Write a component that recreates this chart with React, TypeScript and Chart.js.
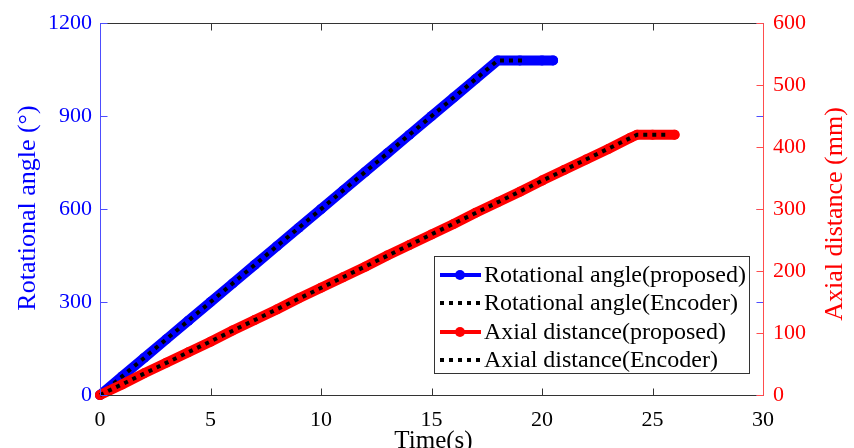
import React, { useEffect, useRef } from "react";
import { Chart, registerables } from "chart.js";
Chart.register(...registerables);

const FONT = "'Liberation Serif', 'Times New Roman', serif";

// Rotational angle (proposed) – time (s) / angle (deg)
const rotTime = [0, 1, 2, 3, 4, 5, 6, 7, 8, 9, 10, 11, 12, 13, 14, 15, 16, 17, 18, 19, 20, 20.5];
const rotProposed = [0, 60, 120, 180, 240, 300, 360, 420, 480, 540, 600, 660, 720, 780, 840, 900, 960, 1020, 1080, 1080, 1080, 1080];
// Rotational angle (Encoder)
const rotEncTime = [0, 18, 19.3];
const rotEncoder = [0, 1080, 1080];
// Axial distance (proposed) – time (s) / distance (mm)
const axTime = [0, 1, 2, 3, 4, 5, 6, 7, 8, 9, 10, 11, 12, 13, 14, 15, 16, 17, 18, 19, 20, 21, 22, 23, 24, 24.3, 25, 26];
const axProposed = [0, 17, 35, 52, 69, 86, 104, 121, 138, 156, 173, 190, 207, 225, 242, 259, 276, 294, 311, 328, 346, 363, 380, 397, 415, 420, 420, 420];
// Axial distance (Encoder)
const axEncTime = [0, 24.3, 25.8];
const axEncoder = [0, 420, 420];

const xTicks = [0, 5, 10, 15, 20, 25, 30];
const leftTicks = [0, 300, 600, 900, 1200];
const rightTicks = [0, 100, 200, 300, 400, 500, 600];

const seriesLabels = [
  "Rotational angle(proposed)",
  "Rotational angle(Encoder)",
  "Axial distance(proposed)",
  "Axial distance(Encoder)",
];

const toPts = (xs: number[], ys: number[]) => xs.map((x, i) => ({ x, y: ys[i] }));
const plain = (v: any) => String(v);

const framePlugin = {
  id: "frame",
  afterDraw(chart: any) {
    const { ctx, chartArea, scales } = chart;
    const { left, right, top, bottom } = chartArea;
    const L = Math.round(left) + 0.5;
    const R = Math.round(right) + 0.5;
    const T = Math.round(top) + 0.5;
    const B = Math.round(bottom) + 0.5;
    const line = (x1: number, y1: number, x2: number, y2: number) => {
      ctx.beginPath();
      ctx.moveTo(x1, y1);
      ctx.lineTo(x2, y2);
      ctx.stroke();
    };
    ctx.save();
    ctx.lineWidth = 1;
    // top and bottom
    ctx.strokeStyle = "#333333";
    line(L, T, R, T);
    line(L, B, R, B);
    xTicks.forEach((v) => {
      const px = Math.round(scales.x.getPixelForValue(v)) + 0.5;
      line(px, B, px, B - 7);
      line(px, T, px, T + 7);
    });
    // left axis
    ctx.strokeStyle = "#4d4dff";
    line(L, T, L, B);
    leftTicks.forEach((v) => {
      const py = Math.round(scales.y.getPixelForValue(v)) + 0.5;
      line(L, py, L + 7, py);
      line(R, py, R - 7, py);
    });
    // right axis
    ctx.strokeStyle = "#ff4d4d";
    line(R, T, R, B);
    rightTicks.forEach((v) => {
      const py = Math.round(scales.y2.getPixelForValue(v)) + 0.5;
      line(R, py, R - 7, py);
    });

    // axis titles
    ctx.textAlign = "center";
    ctx.textBaseline = "middle";
    ctx.font = `26px ${FONT}`;
    ctx.fillStyle = "#0000ff";
    ctx.save();
    ctx.translate(28, 208);
    ctx.rotate(-Math.PI / 2);
    ctx.fillText("Rotational angle (°)", 0, 0);
    ctx.restore();
    ctx.fillStyle = "#ff0000";
    ctx.save();
    ctx.translate(835, 214);
    ctx.rotate(-Math.PI / 2);
    ctx.fillText("Axial distance (mm)", 0, 0);
    ctx.restore();
    ctx.fillStyle = "#000000";
    ctx.font = `25px ${FONT}`;
    ctx.fillText("Time(s)", (left + right) / 2 + 2, 441);

    // legend
    const bx = 434, by = 256, bw = 315, bh = 117;
    ctx.fillStyle = "#ffffff";
    ctx.fillRect(bx, by, bw, bh);
    ctx.strokeStyle = "#333333";
    ctx.lineWidth = 1;
    ctx.strokeRect(bx + 0.5, by + 0.5, bw, bh);
    const rows = [275, 303, 332, 360];
    chart.data.datasets.forEach((ds: any, i: number) => {
      const y = rows[i];
      ctx.save();
      ctx.strokeStyle = ds.borderColor;
      ctx.lineWidth = 4;
      ctx.lineCap = "butt";
      if (ds.borderDash && ds.borderDash.length) ctx.setLineDash([4, 5]);
      line(440, y, 481, y);
      if (ds.pointRadius > 0) {
        ctx.fillStyle = ds.borderColor;
        ctx.beginPath();
        ctx.arc(460, y, 5, 0, Math.PI * 2);
        ctx.fill();
      }
      ctx.restore();
      ctx.fillStyle = "#000000";
      ctx.textAlign = "left";
      ctx.textBaseline = "middle";
      ctx.font = `24px ${FONT}`;
      ctx.fillText(ds.label, 484, y + 1);
    });
    ctx.restore();
  },
};

export default function App() {
  const ref = useRef<HTMLCanvasElement | null>(null);
  useEffect(() => {
    if (!ref.current) return;
    const chart = new Chart(ref.current, {
      type: "line",
      data: {
        datasets: [
          {
            label: seriesLabels[0],
            data: toPts(rotTime, rotProposed),
            borderColor: "#0000ff",
            backgroundColor: "#0000ff",
            borderWidth: 10,
            pointRadius: 5,
            pointBorderWidth: 0,
            borderCapStyle: "round",
            borderJoinStyle: "round",
            yAxisID: "y",
            clip: false,
            order: 3,
          },
          {
            label: seriesLabels[1],
            data: toPts(rotEncTime, rotEncoder),
            borderColor: "#000000",
            borderWidth: 4,
            borderDash: [4, 5],
            pointRadius: 0,
            yAxisID: "y",
            clip: false,
            order: 2,
          },
          {
            label: seriesLabels[2],
            data: toPts(axTime, axProposed),
            borderColor: "#ff0000",
            backgroundColor: "#ff0000",
            borderWidth: 10,
            pointRadius: 5,
            pointBorderWidth: 0,
            borderCapStyle: "round",
            borderJoinStyle: "round",
            yAxisID: "y2",
            clip: false,
            order: 1,
          },
          {
            label: seriesLabels[3],
            data: toPts(axEncTime, axEncoder),
            borderColor: "#000000",
            borderWidth: 4,
            borderDash: [4, 5],
            pointRadius: 0,
            yAxisID: "y2",
            clip: false,
            order: 0,
          },
        ],
      },
      options: {
        responsive: false,
        animation: false,
        parsing: false as any,
        layout: { padding: { top: 20, left: 0, right: 0, bottom: 0 } },
        plugins: { legend: { display: false }, tooltip: { enabled: false } },
        scales: {
          x: {
            type: "linear",
            min: 0,
            max: 30,
            grid: { display: false, drawTicks: false },
            border: { display: false },
            ticks: {
              stepSize: 5,
              color: "#000000",
              padding: 12,
              maxRotation: 0,
              callback: plain,
              font: { family: FONT, size: 22 },
            },
            afterFit: (s: any) => {
              s.height = 53;
            },
          },
          y: {
            type: "linear",
            position: "left",
            min: 0,
            max: 1200,
            grid: { display: false, drawTicks: false },
            border: { display: false },
            ticks: {
              stepSize: 300,
              color: "#0000ff",
              padding: 8,
              callback: plain,
              font: { family: FONT, size: 22 },
            },
            afterFit: (s: any) => {
              s.width = 100;
            },
          },
          y2: {
            type: "linear",
            position: "right",
            min: 0,
            max: 600,
            grid: { display: false, drawTicks: false },
            border: { display: false },
            ticks: {
              stepSize: 100,
              color: "#ff0000",
              padding: 10,
              callback: plain,
              font: { family: FONT, size: 22 },
            },
            afterFit: (s: any) => {
              s.width = 91;
            },
          },
        },
      },
      plugins: [framePlugin],
    } as any);
    return () => chart.destroy();
  }, []);
  return (
    <div style={{ position: "fixed", left: 0, top: 0, width: 854, height: 448, background: "#ffffff" }}>
      <canvas ref={ref} width={854} height={448} />
    </div>
  );
}
